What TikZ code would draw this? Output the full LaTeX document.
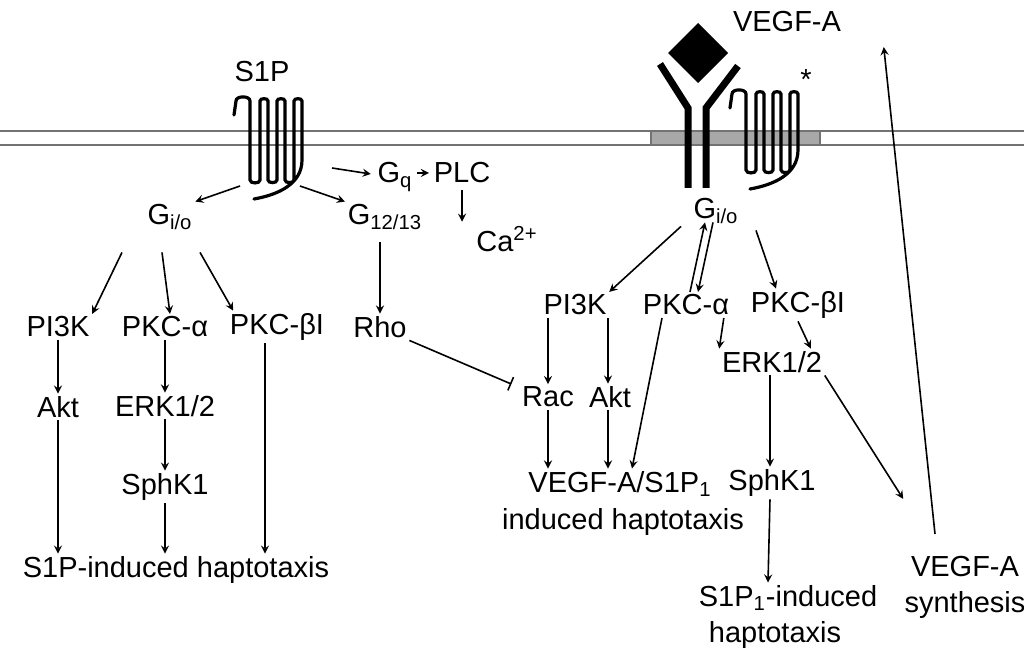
\documentclass[tikz,border=0pt]{standalone}
\usepackage{fontspec}
\setmainfont{Liberation Sans}
\usetikzlibrary{arrows}
\usetikzlibrary{calc}
\definecolor{membrane}{rgb}{0.45,0.45,0.45}
\definecolor{raft}{rgb}{0.66,0.66,0.66}
\tikzset{lbl/.style={inner sep=1pt,font=\fontsize{14.5}{17}\selectfont},
  rec/.style={line width=1.6pt,line cap=round}}
% serpentine receptor: left x, top y, bottom y
\newcommand{\serp}[3]{%
  \draw [rec] (#1,#2+22) -- (#1+2,#2+8) to[out=90,in=90] (#1+16,#2+8) -- (#1+16,#3-5)
    to[out=-90,in=-90] (#1+26,#3-5) -- (#1+26,#2+8) to[out=90,in=90] (#1+34,#2+8) -- (#1+34,#3-5)
    to[out=-90,in=-90] (#1+43,#3-5) -- (#1+43,#2+8) to[out=90,in=90] (#1+51,#2+8) -- (#1+51,#3-5)
    to[out=-90,in=-90] (#1+60,#3-5) -- (#1+60,#2+8) to[out=90,in=90] (#1+68,#2+8) -- (#1+68,#3-25)
    to[out=-90,in=10] (#1+20,#3+14);}
\begin{document}
\begin{tikzpicture}[>=stealth,x=0.5pt,y=-0.5pt,thick]
  \useasboundingbox (0,0) rectangle (1024,652);

  % membrane
  \draw [membrane,semithick] (0,131) -- (1024,131);
  \draw [membrane,semithick] (0,145) -- (1024,145);
  \draw [membrane,fill=raft] (651,131) rectangle (820,145);

  % receptors
  \serp{234}{93}{185}
  \node [lbl] (s1p) at (262,72) {S1P};
  \serp{730}{86}{175}
  \node [lbl] (star) at (806,80) {*};
  \fill (698,23) -- (728,53) -- (698,83) -- (668,53) -- cycle;
  \draw [line width=3.5pt] (688,188) -- (688,108) -- (660,64);
  \draw [line width=3.5pt] (706,188) -- (706,108) -- (738,66);
  \node [lbl] (vegfa) at (787,22) {VEGF-A};
  \coordinate (r1l) at (240,186);
  \coordinate (r1r) at (300,186);
  \coordinate (r1g) at (332,168);

  % left branch
  \node [lbl] (gq) at (395,177) {G\textsubscript{q}};
  \node [lbl] (plc) at (462,173) {PLC};
  \node [lbl] (ca) at (507,239) {Ca\textsuperscript{2+}};
  \node [lbl] (gio) at (170,217) {G\textsubscript{i/o}};
  \node [lbl] (g1213) at (385,217) {G\textsubscript{12/13}};
  \node [lbl] (pi3k) at (58,327) {PI3K};
  \node [lbl] (pkca) at (165,327) {PKC-α};
  \node [lbl] (pkcb) at (277,327) {PKC-βI};
  \node [lbl] (rho) at (380,327) {Rho};
  \node [lbl] (akt) at (58,407) {Akt};
  \node [lbl] (erk) at (165,406) {ERK1/2};
  \node [lbl] (sphk) at (165,487) {SphK1};
  \node [lbl] (hapt) at (176,570) {S1P-induced haptotaxis};

  \draw [->] (r1g) -- ($(gq.west)+(-4,-3)$);
  \draw [->] ($(gq.east)+(2,-4)$) -- ($(plc.west)+(-2,0)$);
  \draw [->] ($(plc.south)+(0,4)$) -- ($(plc.south |- ca.north)+(0,-2)$);
  \draw [->] (r1l) -- (gio.north east);
  \draw [->] (r1r) -- (g1213.north west);
  \draw [->] ($(gio.south)+(-48,20)$) -- (pi3k.north east);
  \draw [->] ($(gio.south)+(-8,20)$) -- (gio.south |- pkca.north);
  \draw [->] ($(gio.south)+(30,20)$) -- ($(pkcb.north west)+(6,0)$);
  \draw [->] ($(g1213.south)+(-5,10)$) -- (rho.north);
  \draw [->] (pi3k.south) -- (akt.north);
  \draw [->] (pkca.south) -- (erk.north);
  \draw [->] (erk.south) -- (sphk.north);
  \draw [->] (akt.south) -- (akt.south |- hapt.north);
  \draw [->] (sphk.south) -- (sphk.south |- hapt.north);
  \draw [->] ($(pkcb.south)+(-12,0)$) -- ($(pkcb.south |- hapt.north)+(-12,0)$);

  % right branch
  \node [lbl] (gio2) at (716,211) {G\textsubscript{i/o}};
  \node [lbl] (pi3k2) at (575,305) {PI3K};
  \node [lbl] (pkca2) at (686,305) {PKC-α};
  \node [lbl] (pkcb2) at (798,305) {PKC-βI};
  \node [lbl] (rac) at (548,397) {Rac};
  \node [lbl] (akt2) at (610,397) {Akt};
  \node [lbl] (erk2) at (772,362) {ERK1/2};
  \node [lbl] (vs) at (620,484) {VEGF-A/S1P\textsubscript{1}};
  \node [lbl] (vsh) at (623,522) {induced haptotaxis};
  \node [lbl] (sphk2) at (772,483) {SphK1};
  \node [lbl] (s1ph) at (788,598) {S1P\textsubscript{1}-induced};
  \node [lbl] (s1phh) at (775,635) {haptotaxis};
  \node [lbl] (vsyn) at (965,567) {VEGF-A};
  \node [lbl] (vsynb) at (965,605) {synthesis};

  \draw [->] ($(gio2.south)+(-35,0)$) -- (pi3k2.north east);
  \draw [->] ($(pkca2.north)+(4,0)$) -- ($(gio2.south)+(-11,-4)$);
  \draw [->] ($(gio2.south)+(-3,-4)$) -- ($(pkca2.north)+(12,0)$);
  \draw [->] ($(gio2.south)+(40,4)$) -- ($(pkcb2.north)+(-22,0)$);
  \draw [->] ($(pi3k2.south)+(-27,0)$) -- (rac.north);
  \draw [->] ($(pi3k2.south)+(33,0)$) -- ($(akt2.north)+(-2,0)$);
  \draw [->] (rac.south) -- (rac.south |- vs.north);
  \draw [->] ($(akt2.south)+(-2,0)$) -- ($(akt2.south |- vs.north)+(-2,0)$);
  \draw [->] ($(pkca2.south)+(-24,0)$) -- ($(vs.north)+(12,0)$);
  \draw [->] ($(pkca2.south east)+(-8,0)$) -- (erk2.north west);
  \draw [->] (pkcb2.south) -- ($(erk2.north east)+(-14,0)$);
  \draw [->] ($(erk2.south)+(-2,0)$) -- ($(sphk2.north)+(-2,0)$);
  \draw [->] ($(sphk2.south)+(-2,0)$) -- ($(s1ph.north)+(-20,0)$);
  \draw [->] (erk2.south east) -- ($(vsyn.north west)+(-5,-55)$);
  \draw [->] ($(vsyn.north)+(-30,-20)$) -- ($(vegfa.south east)+(40,12)$);
  \draw [-|] (rho.south east) -- ($(rac.north west)+(-8,0)$);
\end{tikzpicture}
\end{document}
